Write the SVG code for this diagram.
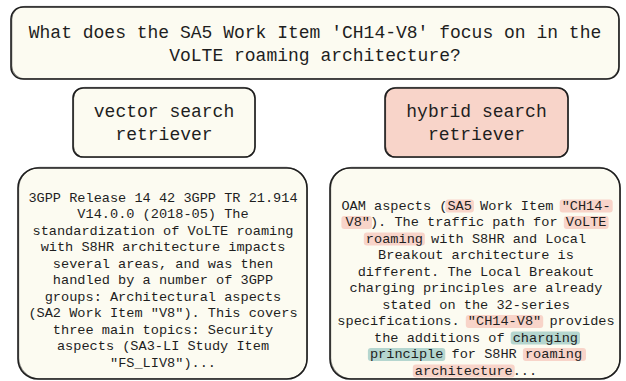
<svg xmlns="http://www.w3.org/2000/svg" width="626" height="381" viewBox="0 0 626 381">
<style>
.box{fill:#fcfbf1;stroke:#1e1e1e;stroke-width:1.6;}
.pink{fill:#f8d4c9;stroke:#1e1e1e;stroke-width:1.6;}
.sk{fill:none;stroke:#1e1e1e;stroke-width:0.8;opacity:0.7;}
.t18{font-family:"Liberation Mono","DejaVu Sans Mono",monospace;font-size:18px;fill:#1e1e1e;text-anchor:middle;}
.t13{font-family:"Liberation Mono","DejaVu Sans Mono",monospace;font-size:13.6px;fill:#1e1e1e;text-anchor:middle;}
.hp{fill:#f8d4c9;}
.ht{fill:#b5d6cf;}
</style>
<rect width="626" height="381" fill="#ffffff"/>
<g id="question">
<rect class="box" x="11" y="7" width="608" height="72" rx="12"/>
<rect class="sk" x="11.8" y="6.4" width="607" height="72.5" rx="13"/>
<text class="t18" x="315" y="38">What does the SA5 Work Item 'CH14-V8' focus on in the</text>
<text class="t18" x="315" y="61">VoLTE roaming architecture?</text>
</g>
<g id="vector-retriever">
<rect class="box" x="73" y="88" width="182" height="69" rx="10"/>
<rect class="sk" x="73.6" y="87.4" width="181.5" height="69.8" rx="11"/>
<text class="t18" x="164" y="117">vector search</text>
<text class="t18" x="164" y="140">retriever</text>
</g>
<g id="hybrid-retriever">
<rect class="pink" x="385" y="88" width="183" height="69" rx="10"/>
<rect class="sk" x="385.6" y="87.4" width="182.5" height="69.8" rx="11"/>
<text class="t18" x="476.5" y="117">hybrid search</text>
<text class="t18" x="476.5" y="140">retriever</text>
</g>
<g id="vector-result">
<rect class="box" x="18" y="168" width="289" height="211" rx="20"/>
<rect class="sk" x="18.7" y="167.3" width="288.5" height="211.5" rx="21"/>
<text class="t13" x="163" y="201.5">3GPP Release 14 42 3GPP TR 21.914</text>
<text class="t13" x="163" y="218">V14.0.0 (2018-05) The</text>
<text class="t13" x="163" y="234.5">standardization of VoLTE roaming</text>
<text class="t13" x="163" y="251">with S8HR architecture impacts</text>
<text class="t13" x="163" y="267.5">several areas, and was then</text>
<text class="t13" x="163" y="284">handled by a number of 3GPP</text>
<text class="t13" x="163" y="300.5">groups: Architectural aspects</text>
<text class="t13" x="163" y="317">(SA2 Work Item "V8"). This covers</text>
<text class="t13" x="163" y="333.5">three main topics: Security</text>
<text class="t13" x="163" y="350">aspects (SA3-LI Study Item</text>
<text class="t13" x="163" y="366.5">"FS_LIV8")...</text>
</g>
<g id="hybrid-result">
<rect class="box" x="330" y="168" width="290" height="211" rx="20"/>
<rect class="sk" x="330.7" y="167.3" width="289.5" height="211.5" rx="21"/>
<rect class="hp" x="445.4" y="199.5" width="28.5" height="13" rx="3"/>
<rect class="hp" x="559.7" y="199.5" width="53" height="13" rx="3"/>
<rect class="hp" x="341.4" y="216" width="30.5" height="13" rx="3"/>
<rect class="hp" x="563.8" y="216" width="44.8" height="13" rx="3"/>
<rect class="hp" x="363.8" y="232.5" width="61.1" height="13" rx="3"/>
<rect class="hp" x="465.8" y="315" width="77.4" height="13" rx="3"/>
<rect class="ht" x="510.7" y="331.5" width="69.3" height="13" rx="3"/>
<rect class="ht" x="367.9" y="348" width="77.4" height="13" rx="3"/>
<rect class="hp" x="522.9" y="348" width="63.1" height="13" rx="3"/>
<rect class="hp" x="412.8" y="364.5" width="101.9" height="13" rx="3"/>
<text class="t13" x="476" y="209.5">OAM aspects (SA5 Work Item "CH14-</text>
<text class="t13" x="476" y="226">V8"). The traffic path for VoLTE</text>
<text class="t13" x="476" y="242.5">roaming with S8HR and Local</text>
<text class="t13" x="476" y="259">Breakout architecture is</text>
<text class="t13" x="476" y="275.5">different. The Local Breakout</text>
<text class="t13" x="476" y="292">charging principles are already</text>
<text class="t13" x="476" y="308.5">stated on the 32-series</text>
<text class="t13" x="476" y="325">specifications. "CH14-V8" provides</text>
<text class="t13" x="476" y="341.5">the additions of charging</text>
<text class="t13" x="476" y="358">principle for S8HR roaming</text>
<text class="t13" x="476" y="374.5">architecture...</text>
</g>
<g id="connectors"></g>
</svg>
